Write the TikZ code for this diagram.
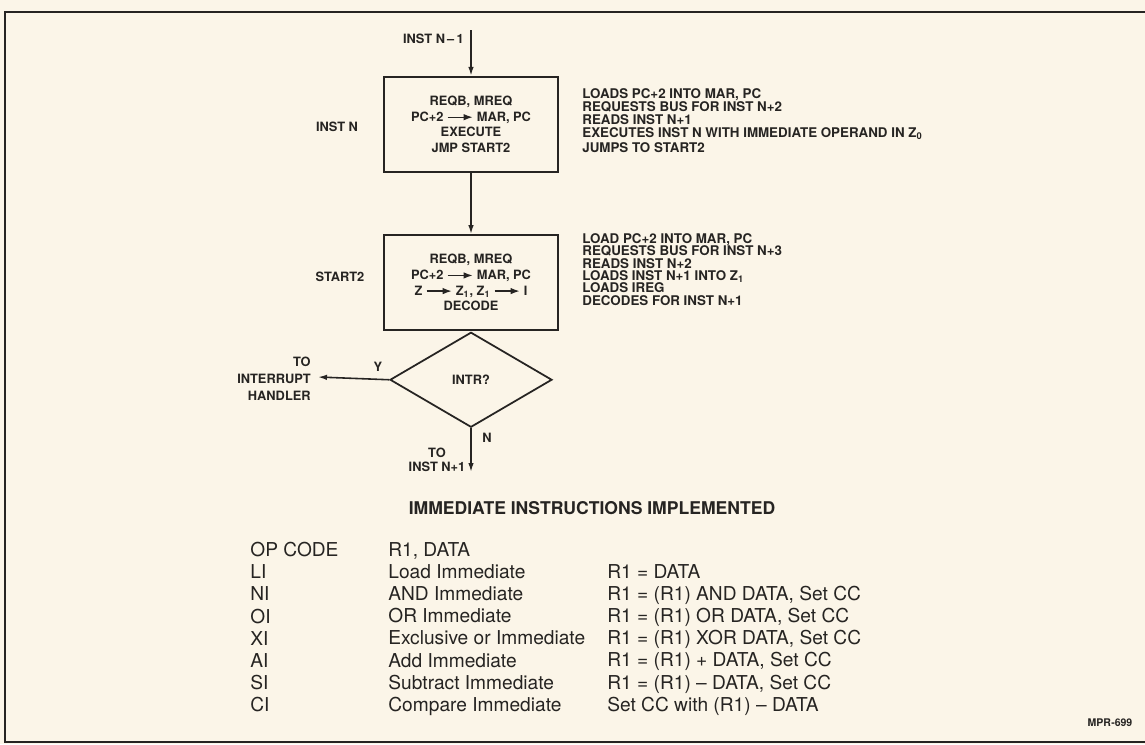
\documentclass[tikz,border=0pt]{standalone}
\usepackage{fontspec}
\setmainfont{TeX Gyre Heros}
\usetikzlibrary{arrows.meta,positioning,shapes.geometric}
\definecolor{paper}{RGB}{251,245,232}
\definecolor{ink}{RGB}{38,36,34}
\newcommand{\movearrow}{\tikz[baseline=-0.6ex]\draw[ink, line width=0.7pt, -{Latex[length=1.8mm,width=1.3mm]}] (0,0) -- (0.5cm,0);}

\begin{document}
\begin{tikzpicture}[x=0.02cm, y=-0.02cm, >={Latex[length=1.8mm,width=1.1mm]},
	every node/.style={font=\fontsize{7.3}{7.45}\selectfont\bfseries, text=ink, inner sep=0pt},
	flowbox/.style={draw=ink, line width=1.3pt, minimum width=3.48cm, minimum height=1.9cm, align=center, font=\fontsize{7.3}{8.9}\selectfont\bfseries},
	decision/.style={diamond, draw=ink, line width=1pt, minimum width=3.24cm, minimum height=1.9cm, aspect=1.7},
	flow/.style={->, draw=ink, line width=0.9pt},
	note/.style={align=left, anchor=north west, font=\fontsize{7.6}{7.5}\selectfont\bfseries},
	column/.style={align=left, anchor=north west, font=\fontsize{10.9}{12.6}\selectfont}]
	\fill[paper] (0,0) rectangle (1145,744);
	\useasboundingbox (0,0) rectangle (1145,744);
	\draw[ink, line width=1.2pt] (1145,12) -- (5,12) -- (5,742) -- (1145,742);
	% flow chart
	\node[flowbox] (exec) at (471,124.5) {REQB, MREQ\\PC+2 \movearrow\ MAR, PC\\EXECUTE\\JMP START2};
	\node[flowbox, below=1.22cm of exec] (decode) {REQB, MREQ\\PC+2 \movearrow\ MAR, PC\\Z \movearrow\ Z\textsubscript{1}, Z\textsubscript{1} \movearrow\ I\\DECODE};
	\node[decision, below=0pt of decode] (intr) {INTR?};
	\coordinate (prev) at (471,30);
	\coordinate (next) at (471,472);
	\coordinate (handler) at (318,377);
	\draw[flow] (prev) -- (exec);
	\draw[flow] (exec) -- (decode);
	\draw[flow] (intr.west) -- (handler);
	\draw[flow] (intr) -- (next);
	\node[anchor=east] (prevlabel) at (464,39) {INST N\,–\,1};
	\node (instn) at (337,127) {INST N};
	\node (start) at (340,277) {START2};
	\node (yes) at (378,367) {Y};
	\node (no) at (487,438) {N};
	\node[align=right, anchor=east, font=\fontsize{7.3}{9.6}\selectfont\bfseries] (tohandler) at (311,379) {TO\\INTERRUPT\\HANDLER};
	\node[align=center, font=\fontsize{7.3}{8}\selectfont\bfseries] (tonext) at (437,460) {TO\\INST N+1};
	\node[note] (execnote) at (582,88) {LOADS PC+2 INTO MAR, PC\\REQUESTS BUS FOR INST N+2\\READS INST N+1\\EXECUTES INST N WITH IMMEDIATE OPERAND IN Z\textsubscript{0}\\[1pt]JUMPS TO START2};
	\node[note, font=\fontsize{7.6}{7.05}\selectfont\bfseries] (decodenote) at (582,233) {LOAD PC+2 INTO MAR, PC\\REQUESTS BUS FOR INST N+3\\READS INST N+2\\LOADS INST N+1 INTO Z\textsubscript{1}\\LOADS IREG\\DECODES FOR INST N+1};
	% table
	\node[font=\fontsize{10}{10}\selectfont\bfseries] (title) at (592,508) {IMMEDIATE INSTRUCTIONS IMPLEMENTED};
	\node[column] (codes) at (250,542) {OP CODE\\LI\\NI\\OI\\XI\\AI\\SI\\CI};
	\node[column] (names) at (388,542) {R1, DATA\\Load Immediate\\AND Immediate\\OR Immediate\\Exclusive or Immediate\\Add Immediate\\Subtract Immediate\\Compare Immediate};
	\node[column] (results) at (607,564) {R1 = DATA\\R1 = (R1) AND DATA, Set CC\\R1 = (R1) OR DATA, Set CC\\R1 = (R1) XOR DATA, Set CC\\R1 = (R1) + DATA, Set CC\\R1 = (R1) – DATA, Set CC\\Set CC with (R1) – DATA};
	\node[font=\fontsize{6}{6}\selectfont\bfseries] (mpr) at (1110,723) {MPR-699};
\end{tikzpicture}
\end{document}
